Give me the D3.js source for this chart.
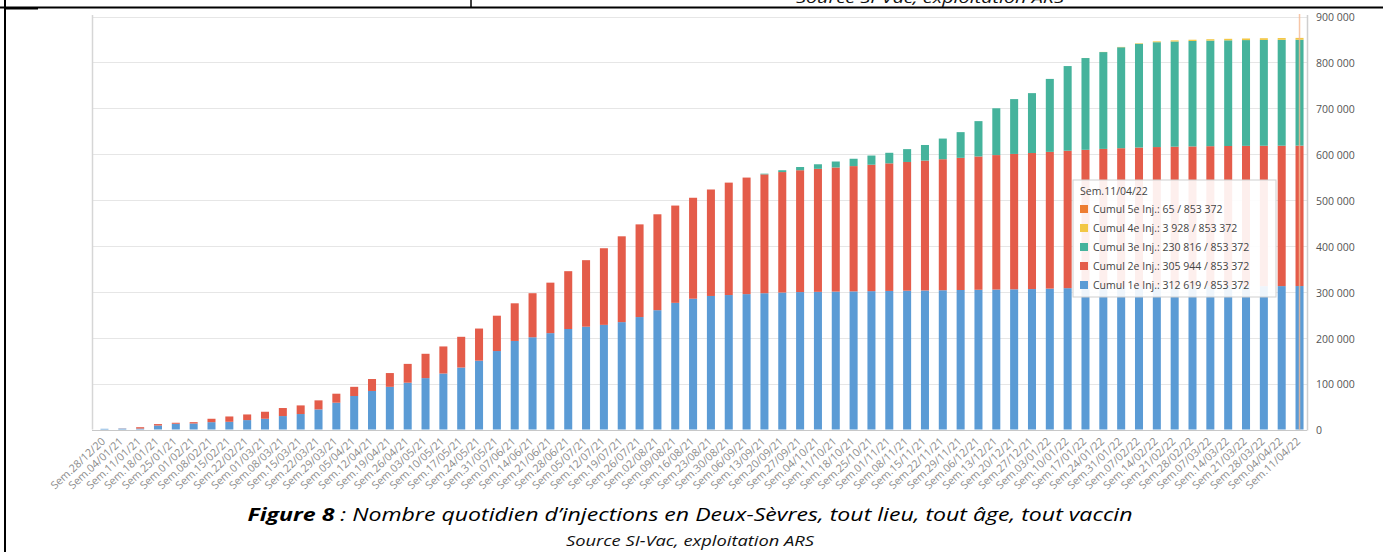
<!DOCTYPE html>
<html>
<head>
<meta charset="utf-8">
<script src="https://cdn.jsdelivr.net/npm/d3@7"></script>
<style>
  body { margin: 0; background: #fff; }
  svg { display: block; }
</style>
</head>
<body>
<script>
// semaines (axe x)
var weeks = ["28/12/20","04/01/21","11/01/21","18/01/21","25/01/21","01/02/21","08/02/21","15/02/21","22/02/21",
  "01/03/21","08/03/21","15/03/21","22/03/21","29/03/21","05/04/21","12/04/21","19/04/21","26/04/21",
  "03/05/21","10/05/21","17/05/21","24/05/21","31/05/21","07/06/21","14/06/21","21/06/21","28/06/21",
  "05/07/21","12/07/21","19/07/21","26/07/21","02/08/21","09/08/21","16/08/21","23/08/21","30/08/21",
  "06/09/21","13/09/21","20/09/21","27/09/21","04/10/21","11/10/21","18/10/21","25/10/21","01/11/21",
  "08/11/21","15/11/21","22/11/21","29/11/21","06/12/21","13/12/21","20/12/21","27/12/21","03/01/22",
  "10/01/22","17/01/22","24/01/22","31/01/22","07/02/22","14/02/22","21/02/22","28/02/22","07/03/22",
  "14/03/22","21/03/22","28/03/22","04/04/22","11/04/22"];

var inj1 = [1500,2000,2000,8700,12500,13100,16000,16800,20500,23400,29300,33700,43800,58400,73000,84000,93000,102000,
  112000,122000,135000,150000,171000,193000,201000,210000,219000,224000,228000,234000,245000,260000,276000,285000,291000,293000,
  295000,297000,298500,299500,300000,300500,301000,301500,302000,302500,303000,303500,304000,304500,305000,305500,306000,307000,
  308000,308800,309500,310000,310500,311000,311300,311600,311900,312100,312300,312400,312500,312619];

var inj2 = [0,300,3000,3100,2200,2900,7400,11600,12300,15300,17500,18800,19700,19600,20000,26000,30000,41000,
  53000,59000,67000,70000,77000,82000,96000,110000,126000,145000,167000,187000,202000,209000,212000,220000,232000,245000,
  254000,259000,262500,265500,268000,270500,273000,275500,278000,280500,283000,285500,288000,290500,293000,295000,296500,298000,
  299500,300700,302000,303000,304000,304500,305000,305300,305500,305700,305800,305900,305950,305944];

var inj3 = [0,0,0,0,0,0,0,0,0,0,0,0,0,0,0,0,0,0,
  0,0,0,0,0,0,0,0,0,0,0,0,0,0,0,0,0,0,
  0,1500,4000,7000,10000,13000,16000,20000,23000,28000,34000,45000,56000,77000,102000,119500,130500,159000,
  184500,200000,211000,220000,226000,228500,229300,229800,230100,230300,230500,230650,230750,230816];

var inj4 = [0,0,0,0,0,0,0,0,0,0,0,0,0,0,0,0,0,0,
  0,0,0,0,0,0,0,0,0,0,0,0,0,0,0,0,0,0,
  0,0,0,0,0,0,0,0,0,0,0,0,0,0,0,0,0,0,
  0,100,300,700,1200,1800,2300,2700,3000,3300,3500,3700,3850,3928];

var inj5 = [0,0,0,0,0,0,0,0,0,0,0,0,0,0,0,0,0,0,
  0,0,0,0,0,0,0,0,0,0,0,0,0,0,0,0,0,0,
  0,0,0,0,0,0,0,0,0,0,0,0,0,0,0,0,0,0,
  0,0,0,0,0,0,0,0,5,10,20,35,50,65];

var seriesKeys = ["Cumul 1e Inj.", "Cumul 2e Inj.", "Cumul 3e Inj.", "Cumul 4e Inj.", "Cumul 5e Inj."];
var seriesColors = ["#5b9bd5", "#e45c4a", "#45b39c", "#f2c744", "#ed7d31"];
var yTicks = [0,100000,200000,300000,400000,500000,600000,700000,800000,900000];

var width = 1383, height = 552;
var plotLeft = 92, plotRight = 1307, plotTop = 15, baseY = 429.5;

var table = weeks.map(function(w, i) {
  var row = { week: "Sem." + w };
  row[seriesKeys[0]] = inj1[i];
  row[seriesKeys[1]] = inj2[i];
  row[seriesKeys[2]] = inj3[i];
  row[seriesKeys[3]] = inj4[i];
  row[seriesKeys[4]] = inj5[i];
  return row;
});

var svg = d3.select("body").append("svg")
  .attr("width", width).attr("height", height);

var x = d3.scaleBand()
  .domain(table.map(function(d){ return d.week; }))
  .range([96, 1308])
  .paddingInner(0.55)
  .paddingOuter(0.25);

var y = d3.scaleLinear()
  .domain([0, 900000])
  .range([baseY, 16.5]);

var color = d3.scaleOrdinal().domain(seriesKeys).range(seriesColors);

// document frame (table borders of the report)
svg.append("line").attr("x1", 0).attr("x2", width).attr("y1", 7.5).attr("y2", 7.5)
  .attr("stroke", "#000").attr("stroke-width", 2);
svg.append("line").attr("x1", 5).attr("x2", 38).attr("y1", 8.5).attr("y2", 8.5)
  .attr("stroke", "#000").attr("stroke-width", 2);
svg.append("line").attr("x1", 5).attr("x2", 5).attr("y1", 0).attr("y2", height)
  .attr("stroke", "#000").attr("stroke-width", 2);
svg.append("line").attr("x1", 471).attr("x2", 471).attr("y1", 0).attr("y2", 8)
  .attr("stroke", "#000").attr("stroke-width", 1.5);
// caption of the previous figure, cut by the page edge as in the source
svg.append("text")
  .attr("x", 930).attr("y", 3)
  .attr("text-anchor", "middle")
  .attr("font-family", "'Open Sans', sans-serif")
  .attr("font-style", "italic")
  .attr("font-size", "15px")
  .attr("fill", "#111")
  .attr("textLength", 268).attr("lengthAdjust", "spacingAndGlyphs")
  .text("Source SI-Vac, exploitation ARS");

// grid
svg.append("g").selectAll("line").data(yTicks).enter().append("line")
  .attr("x1", plotLeft).attr("x2", plotRight)
  .attr("y1", function(d){ return Math.round(y(d)) + 0.5; })
  .attr("y2", function(d){ return Math.round(y(d)) + 0.5; })
  .attr("stroke", function(d){ return d === 0 ? "#c8c8c8" : "#e6e6e6"; });

svg.append("line").attr("x1", plotLeft + 0.5).attr("x2", plotLeft + 0.5)
  .attr("y1", plotTop).attr("y2", baseY).attr("stroke", "#d6d6d6").attr("stroke-width", 1.5);
svg.append("line").attr("x1", plotRight + 0.5).attr("x2", plotRight + 0.5)
  .attr("y1", plotTop).attr("y2", baseY + 1).attr("stroke", "#cfcfcf").attr("stroke-width", 1.5);

// stacked bars
var stacked = d3.stack().keys(seriesKeys)(table);

svg.append("g").selectAll("g").data(stacked).enter().append("g")
  .attr("fill", function(d){ return color(d.key); })
  .selectAll("rect").data(function(d){ return d; }).enter().append("rect")
  .attr("x", function(d){ return x(d.data.week); })
  .attr("width", x.bandwidth())
  .attr("y", function(d){ return y(d[1]); })
  .attr("height", function(d){ return Math.max(0, y(d[0]) - y(d[1])); });

// hover line on the last week
var lastWeek = table[table.length - 1].week;
svg.append("line")
  .attr("x1", x(lastWeek) + x.bandwidth() / 2).attr("x2", x(lastWeek) + x.bandwidth() / 2)
  .attr("y1", 14).attr("y2", baseY)
  .attr("stroke", "#f5b891").attr("stroke-opacity", 0.8).attr("stroke-width", 1.5);

// y axis (right)
var yAxis = d3.axisRight(y)
  .tickValues(yTicks)
  .tickSize(0)
  .tickPadding(9)
  .tickFormat(function(d){ return d3.format(",")(d).replace(/,/g, " "); });

var gy = svg.append("g").attr("transform", "translate(" + plotRight + ",1)").call(yAxis);
gy.select(".domain").remove();
gy.selectAll("text")
  .attr("font-family", "'Open Sans', sans-serif")
  .attr("font-size", "10.5px")
  .attr("fill", "#555");

// x axis
var xAxis = d3.axisBottom(x).tickSize(0).tickPadding(0);
var gx = svg.append("g").attr("transform", "translate(0," + baseY + ")").call(xAxis);
gx.select(".domain").remove();
gx.selectAll("text")
  .attr("font-family", "'Open Sans', sans-serif")
  .attr("font-size", "10.8px")
  .attr("fill", "#8c8c8c")
  .attr("text-anchor", "end")
  .attr("dy", "0.35em")
  .attr("transform", "translate(-1,10) rotate(-43)");

// tooltip
var tip = svg.append("g").attr("transform", "translate(1073,180)");
tip.append("rect")
  .attr("width", 203).attr("height", 117)
  .attr("fill", "#fff").attr("fill-opacity", 0.9)
  .attr("stroke", "#cfcfcf");
tip.append("text")
  .attr("x", 7).attr("y", 15)
  .attr("font-family", "'Open Sans', sans-serif").attr("font-size", "10.5px").attr("fill", "#444")
  .text(lastWeek);

var lastRow = table[table.length - 1];
var total = d3.sum(seriesKeys, function(k){ return lastRow[k]; });
var tipKeys = seriesKeys.slice().reverse();
var tipRows = tip.selectAll(".tiprow").data(tipKeys).enter().append("g")
  .attr("class", "tiprow")
  .attr("transform", function(d, i){ return "translate(0," + (33 + i * 19) + ")"; });
tipRows.append("rect")
  .attr("x", 7).attr("y", -8).attr("width", 8).attr("height", 8)
  .attr("fill", function(d){ return color(d); });
tipRows.append("text")
  .attr("x", 20).attr("y", 0)
  .attr("font-family", "'Open Sans', sans-serif").attr("font-size", "10.5px").attr("fill", "#444")
  .text(function(d){
    var f = function(v){ return d3.format(",")(v).replace(/,/g, " "); };
    return d + ": " + f(lastRow[d]) + " /  " + f(total);
  });

// caption
var cap = svg.append("text")
  .attr("x", 690).attr("y", 521)
  .attr("text-anchor", "middle")
  .attr("font-family", "'Open Sans', sans-serif")
  .attr("font-style", "italic")
  .attr("font-size", "18px")
  .attr("fill", "#000")
  .attr("textLength", 885).attr("lengthAdjust", "spacingAndGlyphs");
cap.append("tspan").attr("font-weight", "bold").text("Figure 8");
cap.append("tspan").text(" : Nombre quotidien d\u2019injections en Deux-S\u00e8vres, tout lieu, tout \u00e2ge, tout vaccin");

svg.append("text")
  .attr("x", 690).attr("y", 546)
  .attr("text-anchor", "middle")
  .attr("font-family", "'Open Sans', sans-serif")
  .attr("font-style", "italic")
  .attr("font-size", "15px")
  .attr("fill", "#111")
  .attr("textLength", 248).attr("lengthAdjust", "spacingAndGlyphs")
  .text("Source SI-Vac, exploitation ARS");
</script>
</body>
</html>
